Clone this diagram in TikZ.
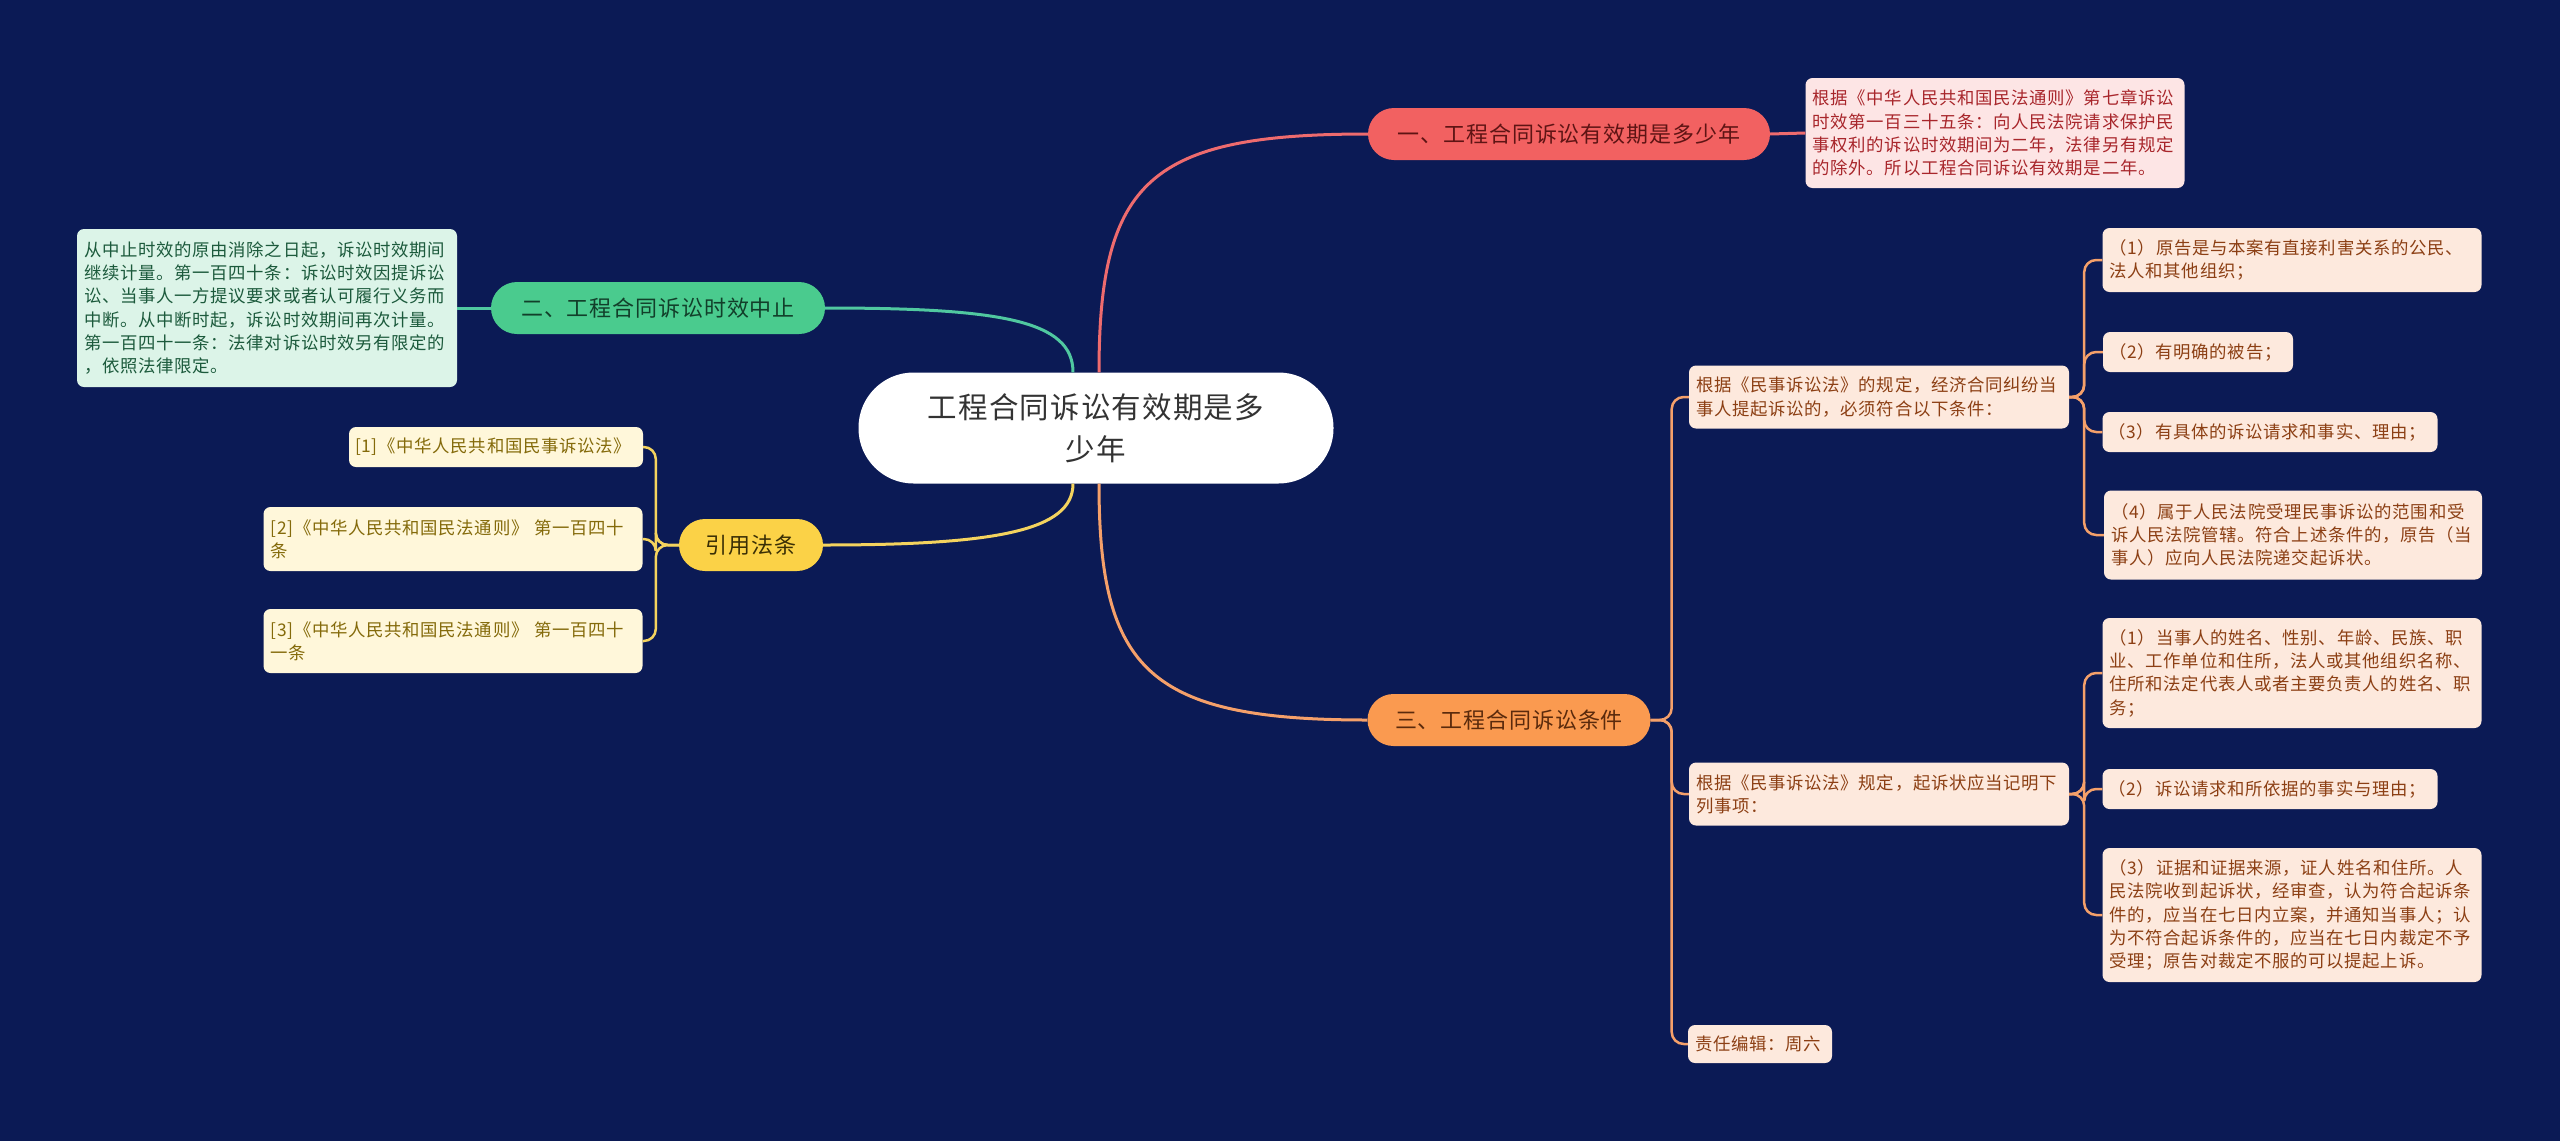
\documentclass[tikz,border=0pt]{standalone}
\usepackage{fontspec}
\usepackage{xcolor}
\usepackage{tikz}
\newfontfamily\cjk[LetterSpace=4]{Noto Sans CJK SC}
\definecolor{Navy}{HTML}{0B1A55}
\definecolor{RedPill}{HTML}{F26161}
\definecolor{RedInk}{HTML}{5E1414}
\definecolor{RedNote}{HTML}{FDE5E5}
\definecolor{RedNoteInk}{HTML}{A8262B}
\definecolor{RedLine}{HTML}{EE6B6E}
\definecolor{GreenPill}{HTML}{4ACB8E}
\definecolor{GreenInk}{HTML}{123F2A}
\definecolor{GreenNote}{HTML}{DCF4E8}
\definecolor{GreenNoteInk}{HTML}{1C5A3C}
\definecolor{GreenLine}{HTML}{50C8A0}
\definecolor{YellowPill}{HTML}{FBD247}
\definecolor{YellowInk}{HTML}{3A2F05}
\definecolor{YellowNote}{HTML}{FFF7DA}
\definecolor{YellowNoteInk}{HTML}{846A0A}
\definecolor{YellowLine}{HTML}{F4D35E}
\definecolor{OrangePill}{HTML}{FA9A50}
\definecolor{OrangeInk}{HTML}{5A2A0C}
\definecolor{OrangeNote}{HTML}{FDE9DD}
\definecolor{OrangeNoteInk}{HTML}{8C3F14}
\definecolor{OrangeLine}{HTML}{F5A06A}

\begin{document}
\begin{tikzpicture}[x=1pt,y=-1pt,
  hub/.style={rounded corners=55pt,fill=white,text=black!80,inner sep=0pt,minimum width=475,minimum height=111,align=center,font=\cjk\fontsize{29.5}{42}\selectfont},
  pill/.style={rounded corners=26pt,inner sep=0pt,minimum height=52,align=center,font=\cjk\fontsize{22}{24}\selectfont},
  note/.style={rounded corners=7pt,inner sep=0pt,align=left,font=\cjk\fontsize{17.4}{23.3}\selectfont},
  rednote/.style={note,fill=RedNote,text=RedNoteInk},
  greennote/.style={note,fill=GreenNote,text=GreenNoteInk},
  yellownote/.style={note,fill=YellowNote,text=YellowNoteInk},
  orangenote/.style={note,fill=OrangeNote,text=OrangeNoteInk},
  main/.style={line width=3pt},
  sub/.style={line width=2.5pt,rounded corners=12pt}]
  \fill[Navy] (0,0) rectangle (2560,1141);

  % centre and first-level topics
  \node[hub] (root) at (1096,428) {工程合同诉讼有效期是多\\少年};
  \node[pill,fill=RedPill,text=RedInk,minimum width=402] (lim) at (1569,134) {一、工程合同诉讼有效期是多少年};
  \node[pill,fill=GreenPill,text=GreenInk,minimum width=334] (stop) at (658,308) {二、工程合同诉讼时效中止};
  \node[pill,fill=YellowPill,text=YellowInk,minimum width=144] (cite) at (751,545) {引用法条};
  \node[pill,fill=OrangePill,text=OrangeInk,minimum width=283] (cond) at (1509,720) {三、工程合同诉讼条件};

  % notes
  \node[rednote,minimum width=379,text width=365,minimum height=110] (limN) at (1995,133)
    {根据《中华人民共和国民法通则》第七章诉讼\\时效第一百三十五条：向人民法院请求保护民\\事权利的诉讼时效期间为二年，法律另有规定\\的除外。所以工程合同诉讼有效期是二年。};
  \node[greennote,minimum width=380,text width=366,minimum height=158] (stopN) at (267,308)
    {从中止时效的原由消除之日起，诉讼时效期间\\继续计量。第一百四十条：诉讼时效因提诉讼\\讼、当事人一方提议要求或者认可履行义务而\\中断。从中断时起，诉讼时效期间再次计量。\\第一百四十一条：法律对诉讼时效另有限定的\\，依照法律限定。};
  \node[yellownote,minimum width=294,text width=282,minimum height=40] (law1) at (496,447) {[1]《中华人民共和国民事诉讼法》};
  \node[yellownote,minimum width=379,text width=365,minimum height=64] (law2) at (453,539) {[2]《中华人民共和国民法通则》 第一百四十\\条};
  \node[yellownote,minimum width=379,text width=365,minimum height=64] (law3) at (453,641) {[3]《中华人民共和国民法通则》 第一百四十\\一条};

  \node[orangenote,minimum width=380,text width=366,minimum height=63] (sue) at (1879,397) {根据《民事诉讼法》的规定，经济合同纠纷当\\事人提起诉讼的，必须符合以下条件：};
  \node[orangenote,minimum width=380,text width=366,minimum height=63] (plea) at (1879,794) {根据《民事诉讼法》规定，起诉状应当记明下\\列事项：};
  \node[orangenote,minimum width=144,text width=130,minimum height=38] (editor) at (1760,1044) {责任编辑：周六};

  \node[orangenote,minimum width=379,text width=365,minimum height=64] (sue1) at (2292,260) {（1）原告是与本案有直接利害关系的公民、\\法人和其他组织；};
  \node[orangenote,minimum width=190,text width=178,minimum height=40] (sue2) at (2198,352) {（2）有明确的被告；};
  \node[orangenote,minimum width=335,text width=323,minimum height=40] (sue3) at (2270,432) {（3）有具体的诉讼请求和事实、理由；};
  \node[orangenote,minimum width=378,text width=364,minimum height=89] (sue4) at (2293,535) {（4）属于人民法院受理民事诉讼的范围和受\\诉人民法院管辖。符合上述条件的，原告（当\\事人）应向人民法院递交起诉状。};
  \node[orangenote,minimum width=379,text width=365,minimum height=110] (plea1) at (2292,673) {（1）当事人的姓名、性别、年龄、民族、职\\业、工作单位和住所，法人或其他组织名称、\\住所和法定代表人或者主要负责人的姓名、职\\务；};
  \node[orangenote,minimum width=335,text width=323,minimum height=40] (plea2) at (2270,789) {（2）诉讼请求和所依据的事实与理由；};
  \node[orangenote,minimum width=379,text width=365,minimum height=134] (plea3) at (2292,915) {（3）证据和证据来源，证人姓名和住所。人\\民法院收到起诉状，经审查，认为符合起诉条\\件的，应当在七日内立案，并通知当事人；认\\为不符合起诉条件的，应当在七日内裁定不予\\受理；原告对裁定不服的可以提起上诉。};

  % branches from the centre
  \draw[main,RedLine] ([xshift=3]root.north) .. controls +(0,-192) and +(-218,0) .. (lim.west);
  \draw[main,OrangeLine] ([xshift=3]root.south) .. controls +(0,187) and +(-218,0) .. (cond.west);
  \draw[main,GreenLine] ([xshift=-23]root.north) .. controls +(0,-52) and +(175,0) .. (stop.east);
  \draw[main,YellowLine] ([xshift=-23]root.south) .. controls +(0,47) and +(173,0) .. (cite.east);
  \draw[main,RedLine] (lim.east) -- (limN.west);
  \draw[main,GreenLine] (stop.west) -- (stopN.east);

  % brackets
  \foreach \leaf in {law1,law2,law3}
    \draw[sub,YellowLine] (cite.west) -- ++(-23,0) |- (\leaf.east);
  \foreach \leaf in {sue,plea,editor}
    \draw[sub,OrangeLine] (cond.east) -- ++(21,0) |- (\leaf.west);
  \foreach \leaf in {sue1,sue2,sue3,sue4}
    \draw[sub,OrangeLine] (sue.east) -- ++(15,0) |- (\leaf.west);
  \foreach \leaf in {plea1,plea2,plea3}
    \draw[sub,OrangeLine] (plea.east) -- ++(15,0) |- (\leaf.west);
\end{tikzpicture}
\end{document}
